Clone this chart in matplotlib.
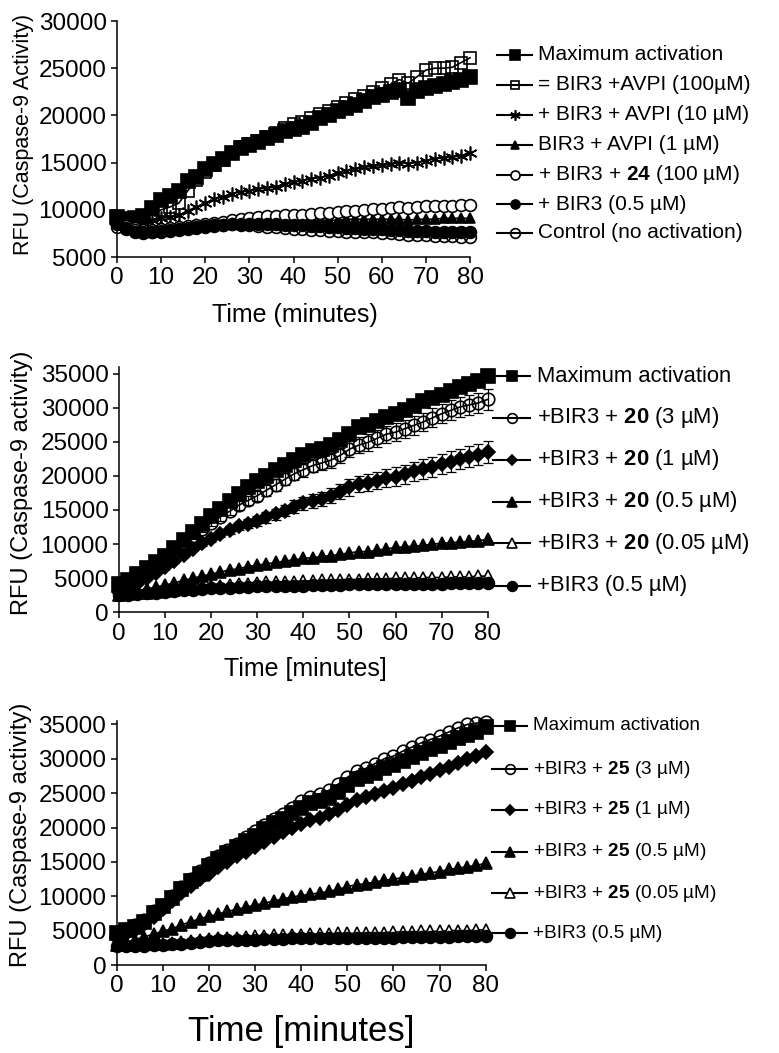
import matplotlib
matplotlib.use("Agg")
import matplotlib.pyplot as plt
from matplotlib.lines import Line2D
import numpy as np

plt.rcParams['font.family'] = ['Liberation Sans', 'DejaVu Sans']
plt.rcParams['mathtext.fontset'] = 'custom'
plt.rcParams['mathtext.rm'] = 'Liberation Sans'
plt.rcParams['mathtext.bf'] = 'Liberation Sans:bold'

# ---------------- data ----------------
time_min = list(range(0, 81, 2))

# Panel 1
p1_labels = ["Maximum activation", "= BIR3 +AVPI (100µM)", "+ BIR3 + AVPI (10 µM)",
             "BIR3 + AVPI (1 µM)", r"+ BIR3 + $\mathbf{24}$ (100 µM)", "+ BIR3 (0.5 µM)",
             "Control (no activation)"]
p1_max = [9200, 9000, 9100, 9300, 10200, 11000, 11500, 12000, 13000, 13500, 14300, 14900, 15400,
          16000, 16500, 16900, 17200, 17600, 17900, 18300, 18600, 18800, 19200, 19700, 20000,
          20500, 20800, 21100, 21500, 21900, 22200, 22500, 22700, 21800, 22600, 22900, 23100,
          23300, 23500, 23700, 24100]
p1_avpi100 = [9000, 8800, 8900, 9200, 9500, 10000, 10300, 10700, 12000, 13200, 14000, 14700, 15300,
              16000, 16600, 17000, 17300, 17700, 18100, 18700, 19100, 19300, 19700, 20100, 20500,
              20900, 21300, 21700, 22100, 22500, 22900, 23300, 23800, 23400, 24100, 24800, 25000,
              25000, 25100, 25600, 26100]
p1_avpi10 = [8800, 8700, 8600, 8700, 8900, 9100, 9200, 9400, 9900, 10300, 10700, 11100, 11400,
             11700, 11900, 12000, 12200, 12300, 12400, 12700, 12900, 13100, 13300, 13400, 13600,
             13900, 14100, 14300, 14500, 14600, 14700, 14800, 15000, 14900, 15000, 15200, 15400,
             15500, 15600, 15700, 16000]
p1_avpi1 = [8600, 8400, 8300, 8200, 8200, 8300, 8300, 8400, 8400, 8500, 8500, 8600, 8600,
            8700, 8700, 8700, 8800, 8800, 8800, 8800, 8800, 8900, 8900, 8900, 8900,
            8900, 9000, 9000, 9000, 9000, 9000, 9000, 9000, 8900, 9000, 9000, 9000,
            9100, 9100, 9100, 9100]
p1_c24 = [8600, 8300, 8100, 7900, 7900, 8000, 8100, 8200, 8300, 8400, 8500, 8600, 8700,
          8900, 9000, 9100, 9200, 9300, 9300, 9400, 9500, 9500, 9600, 9700, 9700,
          9800, 9900, 9900, 10000, 10100, 10100, 10200, 10300, 10200, 10300, 10400, 10400,
          10400, 10400, 10500, 10500]
p1_bir3 = [8500, 8000, 7700, 7500, 7600, 7700, 7800, 7900, 8000, 8100, 8200, 8300, 8400,
           8500, 8500, 8500, 8500, 8500, 8500, 8400, 8400, 8400, 8300, 8300, 8200,
           8200, 8100, 8100, 8000, 8000, 8000, 7900, 7900, 7800, 7800, 7800, 7700,
           7700, 7700, 7600, 7600]
p1_control = [8200, 8100, 7900, 7700, 7700, 7800, 7900, 8000, 8100, 8200, 8300, 8400, 8400,
              8500, 8400, 8400, 8300, 8200, 8200, 8100, 8000, 8000, 7900, 7900, 7800,
              7800, 7700, 7700, 7600, 7600, 7500, 7500, 7400, 7300, 7300, 7300, 7200,
              7200, 7200, 7100, 7100]

# Panel 2
p2_labels = ["Maximum activation", r"+BIR3 + $\mathbf{20}$ (3 µM)", r"+BIR3 + $\mathbf{20}$ (1 µM)",
             r"+BIR3 + $\mathbf{20}$ (0.5 µM)", r"+BIR3 + $\mathbf{20}$ (0.05 µM)", "+BIR3 (0.5 µM)"]
p2_max = [4200, 4800, 5600, 6500, 7300, 8300, 9400, 10600, 11800, 12900, 14100, 15200, 16300,
          17300, 18300, 19200, 20000, 20800, 21600, 22300, 23000, 23600, 24000, 24500, 25200,
          26200, 27100, 27500, 28100, 28700, 29100, 29700, 30300, 30900, 31400, 31900, 32400,
          33000, 33500, 33900, 34600]
p2_3uM = [3600, 4100, 4800, 5600, 6600, 7700, 8900, 10100, 11200, 12200, 13100, 14000, 14800,
          15700, 16400, 17100, 17900, 18700, 19500, 20300, 20900, 21500, 21900, 22300, 23000,
          23900, 24500, 24900, 25500, 26100, 26400, 26900, 27400, 27900, 28500, 29100, 29600,
          30100, 30400, 30700, 31200]
p2_3uM_err = [200, 200, 250, 250, 300, 300, 350, 400, 400, 450, 500, 550, 600, 650, 700, 750,
              800, 850, 900, 950, 1000, 1000, 1050, 1100, 1100, 1150, 1200, 1200, 1250, 1250,
              1300, 1300, 1350, 1350, 1400, 1400, 1450, 1450, 1500, 1500, 1500]
p2_1uM = [3000, 3600, 4200, 5000, 5800, 6600, 7500, 8400, 9300, 10100, 10800, 11500, 12100,
          12600, 13000, 13400, 13900, 14400, 14900, 15500, 16000, 16300, 16600, 17100, 17700,
          18300, 18800, 19000, 19300, 19700, 19900, 20200, 20700, 21000, 21300, 21700, 22100,
          22500, 22800, 23100, 23500]
p2_1uM_err = [150, 150, 200, 200, 250, 250, 300, 300, 350, 400, 450, 500, 550, 600, 650, 700,
              750, 800, 850, 900, 950, 1000, 1050, 1100, 1150, 1200, 1200, 1250, 1300, 1300,
              1350, 1350, 1400, 1400, 1450, 1450, 1500, 1500, 1550, 1550, 1600]
p2_05uM = [2500, 2800, 3100, 3400, 3700, 4000, 4300, 4700, 5000, 5300, 5600, 5900, 6200,
           6400, 6700, 6900, 7100, 7300, 7500, 7700, 7900, 8000, 8200, 8300, 8500,
           8700, 8900, 8900, 9100, 9300, 9500, 9600, 9700, 9800, 10000, 10100, 10200,
           10300, 10400, 10500, 10700]
p2_005uM = [2600, 2700, 2800, 2900, 3000, 3100, 3200, 3400, 3500, 3700, 3800, 3900, 4000,
            4100, 4200, 4300, 4400, 4400, 4500, 4500, 4600, 4600, 4700, 4700, 4800,
            4800, 4800, 4900, 4900, 4900, 5000, 5000, 5000, 5100, 5100, 5100, 5200,
            5200, 5200, 5300, 5300]
p2_bir3 = [2500, 2600, 2700, 2800, 2900, 3000, 3100, 3200, 3300, 3400, 3500, 3600, 3600,
           3700, 3700, 3800, 3800, 3800, 3900, 3900, 3900, 4000, 4000, 4000, 4000,
           4100, 4100, 4100, 4100, 4100, 4200, 4200, 4200, 4200, 4200, 4200, 4300,
           4300, 4300, 4300, 4300]

# Panel 3
p3_labels = ["Maximum activation", r"+BIR3 + $\mathbf{25}$ (3 µM)", r"+BIR3 + $\mathbf{25}$ (1 µM)",
             r"+BIR3 + $\mathbf{25}$ (0.5 µM)", r"+BIR3 + $\mathbf{25}$ (0.05 µM)", "+BIR3 (0.5 µM)"]
p3_max = [4600, 5100, 5600, 6300, 7600, 8600, 9700, 11000, 12200, 13300, 14400, 15400, 16300,
          17200, 18000, 18800, 19800, 20600, 21300, 22100, 22900, 23500, 23900, 24300, 25100,
          26200, 27100, 27500, 28000, 28600, 29100, 29700, 30300, 30900, 31400, 31900, 32400,
          33000, 33500, 33900, 34600]
p3_3uM = [4700, 5200, 5800, 6600, 7800, 8800, 10000, 11300, 12500, 13700, 14800, 15800, 16700,
          17600, 18600, 19500, 20400, 21200, 22000, 22900, 23800, 24500, 24900, 25400, 26300,
          27300, 28200, 28600, 29300, 30000, 30400, 31100, 31700, 32300, 32800, 33300, 33900,
          34500, 35000, 35200, 35300]
p3_1uM = [4000, 4500, 5100, 5900, 7000, 8200, 9300, 10500, 11500, 12500, 13300, 14200, 15000,
          15800, 16500, 17200, 17900, 18600, 19300, 19900, 20500, 21100, 21400, 21900, 22600,
          23300, 24000, 24400, 24900, 25300, 25700, 26300, 26800, 27300, 27800, 28300, 28800,
          29400, 29900, 30400, 31000]
p3_05uM = [2900, 3300, 3700, 4100, 4500, 4900, 5300, 5800, 6300, 6700, 7100, 7400, 7800,
           8100, 8400, 8700, 9000, 9300, 9600, 9900, 10100, 10300, 10500, 10700, 11000,
           11400, 11700, 11800, 12100, 12300, 12500, 12700, 12900, 13200, 13400, 13600, 13900,
           14100, 14300, 14500, 14800]
p3_005uM = [2900, 2900, 3000, 3000, 3100, 3100, 3200, 3400, 3500, 3600, 3800, 3900, 4000,
            4000, 4100, 4200, 4200, 4300, 4300, 4400, 4400, 4500, 4500, 4500, 4600,
            4600, 4600, 4700, 4700, 4700, 4800, 4800, 4800, 4900, 4900, 4900, 5000,
            5000, 5000, 5100, 5100]
p3_bir3 = [2700, 2700, 2800, 2800, 2900, 2900, 3000, 3100, 3200, 3400, 3500, 3600, 3600,
           3700, 3700, 3700, 3800, 3800, 3800, 3900, 3900, 3900, 3900, 3900, 4000,
           4000, 4000, 4000, 4000, 4000, 4000, 4100, 4100, 4100, 4100, 4100, 4100,
           4200, 4200, 4200, 4200]

# ---------------- styles ----------------
K = 'black'
p1_styles = [dict(marker='s', ms=9.5, mfc=K),
             dict(marker='s', ms=8.5, mfc='none'),
             dict(marker=(6, 2, 0), ms=10),
             dict(marker='^', ms=6.5, mfc=K),
             dict(marker='o', ms=8.5, mfc='white'),
             dict(marker='o', ms=8.5, mfc=K),
             dict(marker='o', ms=8.5, mfc='none')]
p1_leg_ms = [7.5, 6, 7.5, 5.5, 6.5, 6.5, 7]
p1_series = [p1_max, p1_avpi100, p1_avpi10, p1_avpi1, p1_c24, p1_bir3, p1_control]

p2_styles = [dict(marker='s', ms=10, mfc=K),
             dict(marker='o', ms=9, mfc='none'),
             dict(marker='D', ms=7, mfc=K),
             dict(marker='^', ms=8, mfc=K),
             dict(marker='^', ms=8, mfc='white'),
             dict(marker='o', ms=8.5, mfc=K)]
p2_leg_ms = [7, 7, 5.5, 7, 7, 7]
p2_series = [p2_max, p2_3uM, p2_1uM, p2_05uM, p2_005uM, p2_bir3]
p2_errs = [None, p2_3uM_err, p2_1uM_err, None, None, None]

p3_styles = [dict(marker='s', ms=10, mfc=K),
             dict(marker='o', ms=9, mfc='none'),
             dict(marker='D', ms=7, mfc=K),
             dict(marker='^', ms=8, mfc=K),
             dict(marker='^', ms=8, mfc='white'),
             dict(marker='o', ms=8.5, mfc=K)]
p3_leg_ms = [7, 7, 5.5, 7, 7, 7]
p3_series = [p3_max, p3_3uM, p3_1uM, p3_05uM, p3_005uM, p3_bir3]

W, H = 779, 1053
fig = plt.figure(figsize=(W / 100, H / 100), dpi=100)


def fx(px):
    return px / W


def fy(py):
    return 1 - py / H


def style_axes(ax, ylim, yticks, tick_fs):
    ax.set_xlim(0, 80)
    ax.set_ylim(*ylim)
    ax.set_xticks(range(0, 81, 10))
    ax.set_yticks(yticks)
    for s in ['top', 'right']:
        ax.spines[s].set_visible(False)
    for s in ['left', 'bottom']:
        ax.spines[s].set_linewidth(1.1)
    ax.tick_params(direction='out', length=4.5, width=1.1, labelsize=tick_fs, pad=3)


def draw_series(ax, series, styles, errs=None):
    for i, (ys, st) in enumerate(zip(series, styles)):
        ax.plot(time_min, ys, color=K, lw=1.2, mec=K, mew=1.2, clip_on=False, zorder=3 + i, **st)
        if errs is not None and errs[i] is not None:
            ax.errorbar(time_min, ys, yerr=errs[i], fmt='none', ecolor=K, elinewidth=0.9,
                        capsize=3.5, capthick=0.9, clip_on=False, zorder=2 + i)


def draw_legend(labels, styles, leg_ms, rows_px, x0, x1, xt, fs):
    for lab, st, ms, ry in zip(labels, styles, leg_ms, rows_px):
        y = fy(ry)
        fig.add_artist(Line2D([fx(x0), fx(x1)], [y, y], color=K, lw=1.5,
                              transform=fig.transFigure))
        st2 = dict(st)
        st2['ms'] = ms
        fig.add_artist(Line2D([fx((x0 + x1) / 2)], [y], color=K, lw=0, mec=K, mew=1.2,
                              transform=fig.transFigure, **st2))
        fig.text(fx(xt), y, lab, fontsize=fs, va='center', ha='left')


# ---------------- panel 1 ----------------
ax1 = fig.add_axes([fx(117), fy(257), fx(470 - 117), (257 - 21) / H])
draw_series(ax1, p1_series, p1_styles)
style_axes(ax1, (5000, 30000), range(5000, 30001, 5000), 17.5)
ax1.set_xlabel("Time (minutes)", fontsize=18)
ax1.xaxis.set_label_coords(fx(295), fy(315), transform=fig.transFigure)
ax1.xaxis.label.set_va('center')
ax1.set_ylabel("RFU (Caspase-9 Activity)", fontsize=15.5)
ax1.yaxis.set_label_coords(fx(24), fy(134), transform=fig.transFigure)
ax1.yaxis.label.set_va('center')
draw_legend(p1_labels, p1_styles, p1_leg_ms, [55, 85, 115, 145, 175, 204, 233], 497, 532, 538, 15)

# ---------------- panel 2 ----------------
ax2 = fig.add_axes([fx(119), fy(612.3), fx(487.7 - 119), (612.3 - 366.7) / H])
draw_series(ax2, p2_series, p2_styles, p2_errs)
style_axes(ax2, (0, 36000), range(0, 35001, 5000), 17.5)
ax2.set_xlabel("Time [minutes]", fontsize=18)
ax2.xaxis.set_label_coords(fx(305), fy(669), transform=fig.transFigure)
ax2.xaxis.label.set_va('center')
ax2.set_ylabel("RFU (Caspase-9 activity)", fontsize=17)
ax2.yaxis.set_label_coords(fx(22), fy(483), transform=fig.transFigure)
ax2.yaxis.label.set_va('center')
draw_legend(p2_labels, p2_styles, p2_leg_ms, [376, 418, 460, 502, 543, 586], 493, 530, 537, 15.8)

# ---------------- panel 3 ----------------
ax3 = fig.add_axes([fx(116.7), fy(965), fx(485.7 - 116.7), (965 - 721) / H])
draw_series(ax3, p3_series, p3_styles)
style_axes(ax3, (0, 35500), range(0, 35001, 5000), 17.5)
ax3.set_xlabel("Time [minutes]", fontsize=25)
ax3.xaxis.set_label_coords(fx(301), fy(1031), transform=fig.transFigure)
ax3.xaxis.label.set_va('center')
ax3.set_ylabel("RFU (Caspase-9 activity)", fontsize=17)
ax3.yaxis.set_label_coords(fx(21), fy(835), transform=fig.transFigure)
ax3.yaxis.label.set_va('center')
draw_legend(p3_labels, p3_styles, p3_leg_ms, [726, 769, 810, 852, 893, 933], 492, 527, 533, 13.7)

fig.savefig("out.png", dpi=100)
